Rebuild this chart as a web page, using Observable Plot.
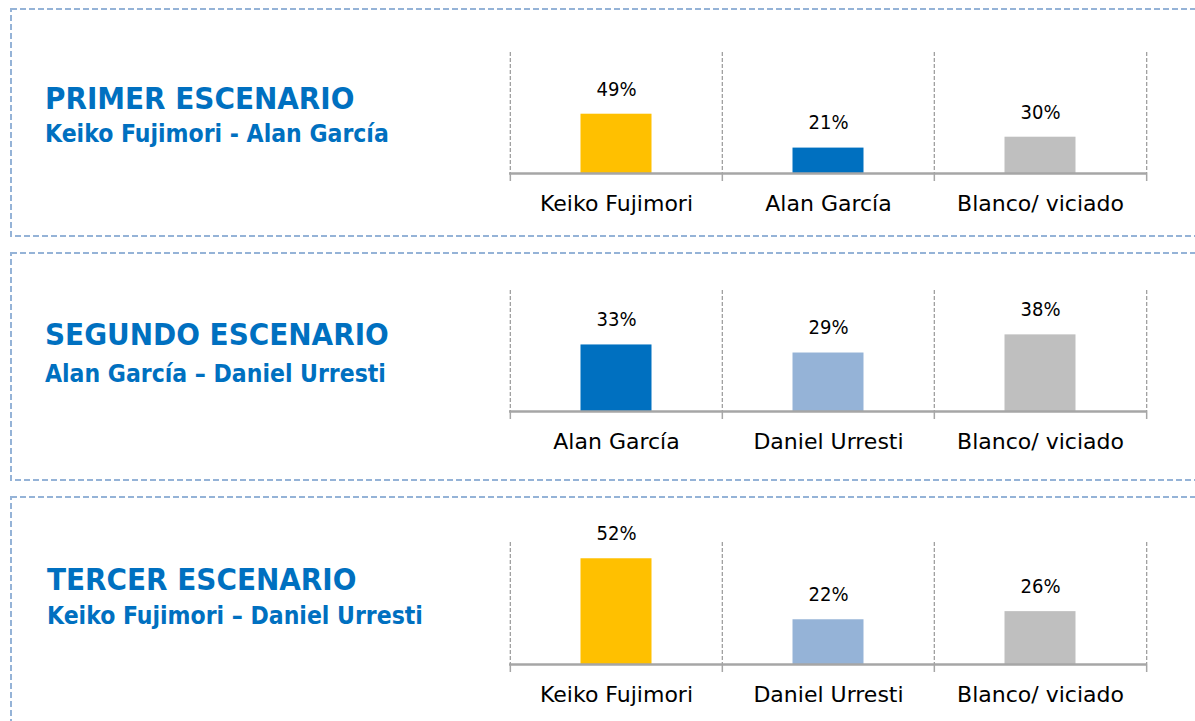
<!DOCTYPE html>
<html>
<head>
<meta charset="utf-8">
<script src="https://cdn.jsdelivr.net/npm/d3@7"></script>
<script src="https://cdn.jsdelivr.net/npm/@observablehq/plot@0.6"></script>
<style>
  html, body { margin: 0; padding: 0; background: #fff; width: 1195px; height: 721px; overflow: hidden; position: relative; }
  .title { position: absolute; color: #0070C0; font-family: "DejaVu Sans Condensed", "DejaVu Sans", sans-serif; font-weight: bold; white-space: nowrap; line-height: 1; }
  .t1 { font-size: 31px; }
  .t2 { font-size: 24.5px; }
  .chart { position: absolute; left: 0; }
  #borders { position: absolute; left: 0; top: 0; }
</style>
</head>
<body>
<svg id="borders" width="1195" height="721"></svg>
<div id="root"></div>
<script>
// ---- data ----
const titles = ["PRIMER ESCENARIO", "SEGUNDO ESCENARIO", "TERCER ESCENARIO"];
const subtitles = ["Keiko Fujimori - Alan García", "Alan García – Daniel Urresti", "Keiko Fujimori – Daniel Urresti"];
const categories1 = ["Keiko Fujimori", "Alan García", "Blanco/ viciado"];
const values1 = [49, 21, 30];
const categories2 = ["Alan García", "Daniel Urresti", "Blanco/ viciado"];
const values2 = [33, 29, 38];
const categories3 = ["Keiko Fujimori", "Daniel Urresti", "Blanco/ viciado"];
const values3 = [52, 22, 26];
const yMax = [100, 60, 60];

const candidateColors = {
  "Keiko Fujimori": "#FFC000",
  "Alan García": "#0070C0",
  "Daniel Urresti": "#95B3D7",
  "Blanco/ viciado": "#BFBFBF"
};

// ---- layout (style) ----
const panels = [
  {top: 9, bottom: 236, marginTop: 43, plotH: 121, titleTop: 83, subTop: 122, titleLeft: 45},
  {top: 253, bottom: 480, marginTop: 37, plotH: 121, titleTop: 319, subTop: 362, titleLeft: 45},
  {top: 497, bottom: 760, marginTop: 45, plotH: 122, titleTop: 564, subTop: 604, titleLeft: 47}
];
const W = 1195, mL = 509, mR = 1195 - 1146;
const band = (W - mL - mR) / 3;

// borders
const bsvg = d3.select("#borders");
panels.forEach(p => {
  bsvg.append("rect")
    .attr("x", 11).attr("y", p.top)
    .attr("width", 1300).attr("height", p.bottom - p.top)
    .attr("fill", "none").attr("stroke", "#95B3D7")
    .attr("stroke-width", 2).attr("stroke-dasharray", "6,3");
});

const datasets = [
  [categories1, values1],
  [categories2, values2],
  [categories3, values3]
];

const root = document.getElementById("root");
datasets.forEach(([cats, vals], k) => {
  const p = panels[k];
  const data = cats.map((c, i) => ({cat: c, value: vals[i]}));
  const height = p.marginTop + p.plotH + 60;

  const t = document.createElement("div");
  t.className = "title t1";
  t.style.left = p.titleLeft + "px";
  t.style.top = p.titleTop + "px";
  t.textContent = titles[k];
  root.appendChild(t);
  const s = document.createElement("div");
  s.className = "title t2";
  s.style.left = p.titleLeft + "px";
  s.style.top = p.subTop + "px";
  s.textContent = subtitles[k];
  root.appendChild(s);

  const chart = Plot.plot({
    width: W,
    height,
    marginLeft: mL,
    marginRight: mR,
    marginTop: p.marginTop,
    marginBottom: height - p.marginTop - p.plotH,
    style: {fontFamily: "'DejaVu Sans Condensed', 'DejaVu Sans', sans-serif", background: "transparent"},
    x: {domain: cats, padding: 0, axis: null},
    y: {domain: [0, yMax[k]], axis: null},
    marks: [
      // dashed vertical gridlines at category boundaries
      Plot.ruleX(cats, {x: d => d, dx: -band / 2, stroke: "#A0A0A0", strokeWidth: 1.3, strokeDasharray: "4,2"}),
      Plot.ruleX([cats[cats.length - 1]], {x: d => d, dx: band / 2, stroke: "#A0A0A0", strokeWidth: 1.3, strokeDasharray: "4,2"}),
      // small solid ticks below baseline
      Plot.ruleX(cats, {x: d => d, dx: -band / 2, stroke: "#A6A6A6", strokeWidth: 1.5, insetTop: p.plotH, insetBottom: -8}),
      Plot.ruleX([cats[cats.length - 1]], {x: d => d, dx: band / 2, stroke: "#A6A6A6", strokeWidth: 1.5, insetTop: p.plotH, insetBottom: -8}),
      Plot.barY(data, {x: "cat", y: "value", fill: d => candidateColors[d.cat], insetLeft: 70.5, insetRight: 70.5}),
      Plot.ruleY([0], {stroke: "#A6A6A6", strokeWidth: 2.5}),
      Plot.text(data, {x: "cat", y: "value", text: d => d.value + "%", dy: -25, fontSize: 20, fill: "#000"}),
      Plot.axisX({domain: cats, tickSize: 0, tickPadding: 22, fontSize: 22, fontFamily: "'DejaVu Sans', sans-serif", color: "#000", label: null, frameAnchor: "bottom"})
    ]
  });
  chart.classList.add("chart");
  chart.style.top = p.top + "px";
  chart.style.position = "absolute";
  root.appendChild(chart);
});
</script>
</body>
</html>
